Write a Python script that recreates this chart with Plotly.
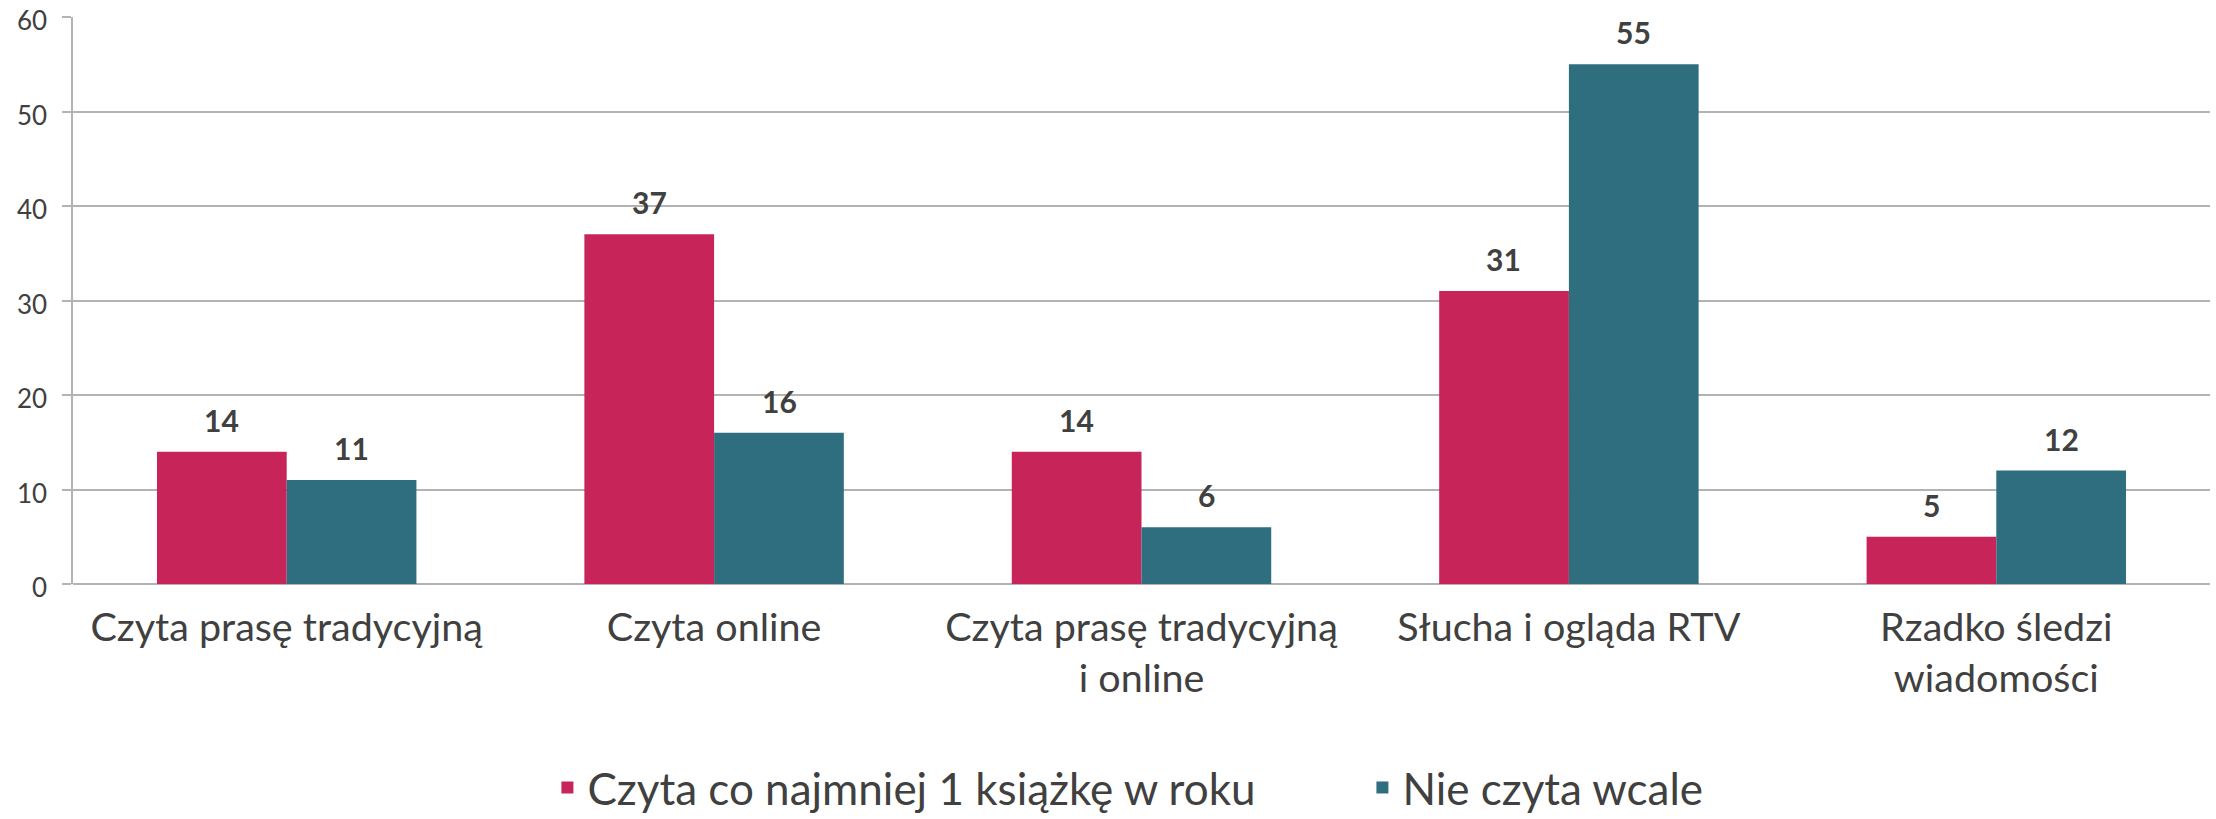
import plotly.graph_objects as go

categories = ["Czyta prasę tradycyjną", "Czyta online", "Czyta prasę tradycyjną<br>i online",
              "Słucha i ogląda RTV", "Rzadko śledzi<br>wiadomości"]
series_names = ["Czyta co najmniej 1 książkę w roku", "Nie czyta wcale"]
reads_values = [14, 37, 14, 31, 5]
not_reads_values = [11, 16, 6, 55, 12]
y_ticks = [0, 10, 20, 30, 40, 50, 60]

PINK = "#C7245A"
TEAL = "#2E6E7E"
TXT = "#404040"
FONT = "Lato"

fig = go.Figure()
fig.add_trace(go.Bar(x=categories, y=reads_values, name=series_names[0],
                     marker=dict(color=PINK, line=dict(width=0))))
fig.add_trace(go.Bar(x=categories, y=not_reads_values, name=series_names[1],
                     marker=dict(color=TEAL, line=dict(width=0))))

for vals, shift in ((reads_values, -65), (not_reads_values, 65)):
    for c, v in zip(categories, vals):
        fig.add_annotation(x=c, y=v, text=f"<b>{v}</b>", showarrow=False,
                           xshift=shift, yshift=32, yanchor="middle",
                           font=dict(family=FONT, size=30, color=TXT))

fig.update_layout(
    width=2216, height=819,
    margin=dict(l=73, r=6, t=17, b=235, autoexpand=False),
    paper_bgcolor="white", plot_bgcolor="white",
    barmode="group", bargap=0.393, bargroupgap=0,
    font=dict(family=FONT, color=TXT),
    showlegend=True,
    legend=dict(orientation="h", x=0.222, xanchor="left", yref="container", y=0.038, yanchor="middle",
                font=dict(family=FONT, size=44, color=TXT), itemwidth=30,
                entrywidth=770, entrywidthmode="pixels"),
    xaxis=dict(showline=False, showgrid=False, tickfont=dict(family=FONT, size=39.5, color=TXT),
               ticks="", ticklabelstandoff=16, automargin=False),
    yaxis=dict(range=[0, 60], tickvals=y_ticks, showgrid=True, gridcolor="#B3B3B3", gridwidth=1.5,
               showline=True, linecolor="#B3B3B3", linewidth=1.5,
               ticks="outside", ticklen=9, tickcolor="#B3B3B3", tickwidth=1.5,
               tickfont=dict(family=FONT, size=26, color=TXT), ticklabelstandoff=10,
               ticklabelshift=4, ticklabeloverflow="allow",
               zeroline=True, zerolinecolor="#B3B3B3", zerolinewidth=1.5, automargin=False),
)

fig.write_html("out.html", config={"displayModeBar": False},
               post_script="document.body.style.margin='0';")
